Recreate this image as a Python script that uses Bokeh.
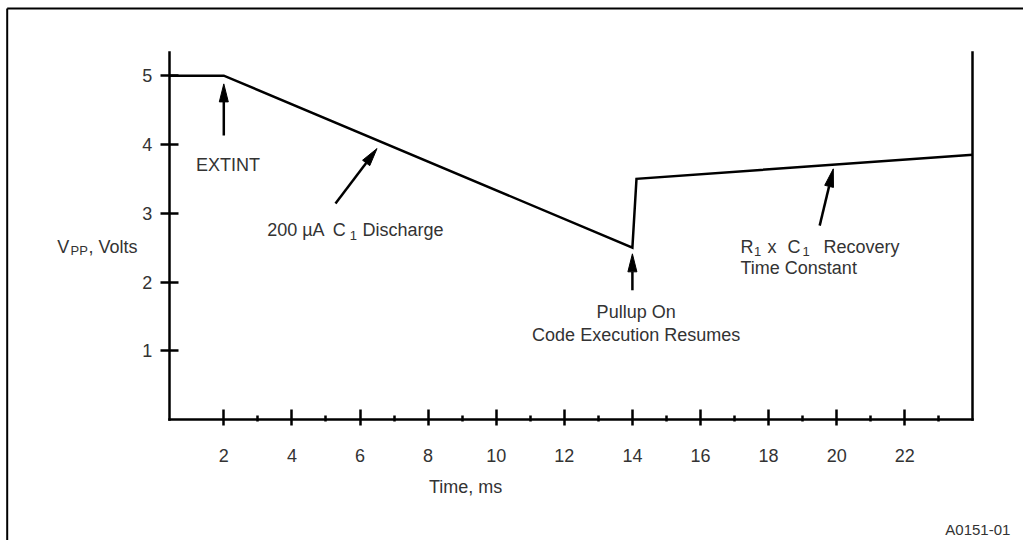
from math import hypot
from bokeh.plotting import figure
from bokeh.models import LinearAxis, FixedTicker, Range1d
from bokeh.core.properties import value
from bokeh.embed import file_html
from bokeh.resources import INLINE

# ---------------- data ----------------
time_ms = [0.4, 2, 14, 14.12, 24]
vpp_volts = [5.0, 5.0, 2.5, 3.5, 3.85]

x_major_ticks = [2, 4, 6, 8, 10, 12, 14, 16, 18, 20, 22]
x_minor_ticks = [3, 5, 7, 9, 11, 13, 15, 17, 19, 21, 23]
y_major_ticks = [1, 2, 3, 4, 5]

# arrows: tail x, tail y, tip x, tip y
arrow_x0 = [2.0, 5.28, 14.0, 19.50]
arrow_y0 = [4.13, 3.14, 1.88, 2.82]
arrow_x1 = [2.0, 6.50, 14.0, 19.90]
arrow_y1 = [4.88, 3.94, 2.41, 3.645]

# ---------------- layout ----------------
W, H = 1023, 540
X0, X1 = -4.558, 25.486
Y0, Y1 = -1.757, 6.092
AXIS_X = 0.4
AXIS_TOP = 5.33
PXX = W / (X1 - X0)
PXY = H / (Y1 - Y0)

FONT = "Liberation Sans"
TXT = "#333333"

p = figure(width=W, height=H, x_range=Range1d(X0, X1), y_range=Range1d(Y0, Y1),
           x_axis_location=None, y_axis_location=None,
           toolbar_location=None, output_backend="svg", min_border=0)
p.xgrid.visible = False
p.ygrid.visible = False
p.outline_line_color = None
p.background_fill_color = "white"
p.border_fill_color = "white"


def style_axis(ax):
    ax.axis_line_color = "black"
    ax.axis_line_width = 2.5
    ax.axis_line_cap = "square"
    ax.major_tick_line_color = "black"
    ax.major_tick_line_width = 2.5
    ax.minor_tick_line_color = "black"
    ax.minor_tick_line_width = 2.5
    ax.major_label_text_font = FONT
    ax.major_label_text_font_size = "18px"
    ax.major_label_text_color = TXT


xaxis = LinearAxis(fixed_location=0, bounds=(AXIS_X, 24),
                   ticker=FixedTicker(ticks=x_major_ticks, minor_ticks=x_minor_ticks))
style_axis(xaxis)
xaxis.major_tick_in = 10
xaxis.major_tick_out = 6
xaxis.minor_tick_in = 4
xaxis.minor_tick_out = 2
xaxis.major_label_standoff = 23
p.add_layout(xaxis, "below")

yaxis = LinearAxis(fixed_location=AXIS_X, bounds=(0, AXIS_TOP),
                   ticker=FixedTicker(ticks=y_major_ticks, minor_ticks=[]))
style_axis(yaxis)
yaxis.major_tick_in = 9
yaxis.major_tick_out = 9
yaxis.minor_tick_in = 0
yaxis.minor_tick_out = 0
yaxis.major_label_standoff = 8
p.add_layout(yaxis, "left")

raxis = LinearAxis(fixed_location=24, bounds=(0, AXIS_TOP),
                   ticker=FixedTicker(ticks=[], minor_ticks=[]))
style_axis(raxis)
raxis.major_tick_in = 0
raxis.major_tick_out = 0
raxis.minor_tick_in = 0
raxis.minor_tick_out = 0
raxis.major_label_text_font_size = "0px"
p.add_layout(raxis, "right")

# outer frame (left and top edges of the figure box)
bx = X0 + 6.7 / PXX
by = Y1 - 8.0 / PXY
p.segment(x0=[bx, bx], y0=[Y0, by], x1=[bx, X1], y1=[by, by], line_color="black", line_width=2)

# data line
p.line(time_ms, vpp_volts, line_color="black", line_width=2.5, line_join="miter")

# arrows
HEAD_LEN, HEAD_HALF = 18.0, 4.5
sx0, sy0, sx1, sy1, hx, hy = [], [], [], [], [], []
for a, b, c, d in zip(arrow_x0, arrow_y0, arrow_x1, arrow_y1):
    dx, dy = (c - a) * PXX, (d - b) * PXY
    L = hypot(dx, dy)
    ux, uy = dx / L, dy / L
    base_x = c - ux * HEAD_LEN / PXX
    base_y = d - uy * HEAD_LEN / PXY
    px, py = -uy, ux
    sx0.append(a); sy0.append(b); sx1.append(base_x); sy1.append(base_y)
    hx.append([c, base_x + px * HEAD_HALF / PXX, base_x - px * HEAD_HALF / PXX])
    hy.append([d, base_y + py * HEAD_HALF / PXY, base_y - py * HEAD_HALF / PXY])
p.segment(x0=sx0, y0=sy0, x1=sx1, y1=sy1, line_color="black", line_width=2.5)
p.patches(hx, hy, fill_color="black", line_color="black", line_width=1)

# texts (main size)
left_text = ["V", ", Volts", "200 \u00b5A", "C", "Discharge", "R", "x", "C", "Recovery", "Time Constant"]
left_x = [-2.893, -1.973, 3.275, 5.20, 6.073, 17.175, 17.968, 18.555, 19.613, 17.175]
left_y = [2.516, 2.516, 2.749, 2.749, 2.749, 2.516, 2.516, 2.516, 2.516, 2.206]
p.text(x=left_x, y=left_y, text=left_text, text_font=value(FONT), text_font_size="18px",
       text_color=TXT, text_align="left", text_baseline="alphabetic")

center_text = ["EXTINT", "Pullup On", "Code Execution Resumes", "Time, ms"]
center_x = [2.123, 14.11, 14.11, 9.1]
center_y = [3.703, 1.561, 1.237, -0.98]
p.text(x=center_x, y=center_y, text=center_text, text_font=value(FONT), text_font_size="18px",
       text_color=TXT, text_align="center", text_baseline="alphabetic")

sub_text = ["PP", "1", "1", "1"]
sub_x = [-2.502, 5.700, 17.572, 18.996]
sub_y = [2.458, 2.676, 2.443, 2.443]
p.text(x=sub_x, y=sub_y, text=sub_text, text_font=value(FONT), text_font_size="13px",
       text_color=TXT, text_align="left", text_baseline="alphabetic")

p.text(x=[25.10], y=[-1.59], text=["A0151-01"], text_font=value(FONT), text_font_size="15px",
       text_color=TXT, text_align="right", text_baseline="alphabetic")

open("out.html", "w").write(file_html(p, INLINE))
